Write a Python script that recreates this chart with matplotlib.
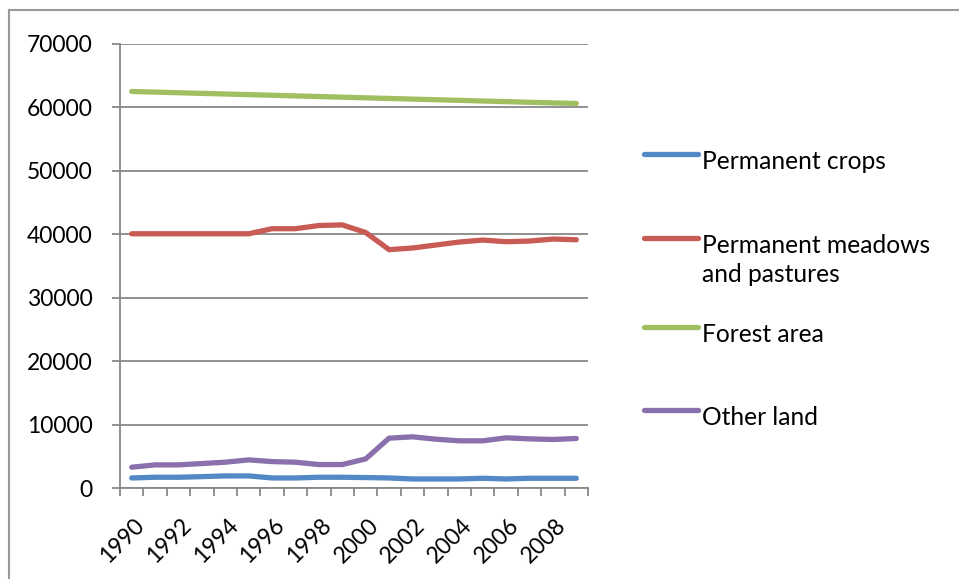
import matplotlib.pyplot as plt
import matplotlib.transforms as mtransforms
import numpy as np
from matplotlib.lines import Line2D

plt.rcParams['font.family'] = ['Lato', 'DejaVu Sans']

years = list(range(1990, 2010))
permanent_crops = [1630, 1740, 1740, 1840, 1950, 1950, 1630, 1630, 1740, 1740,
                   1690, 1630, 1470, 1470, 1470, 1580, 1470, 1580, 1580, 1580]
meadows = [40100, 40100, 40100, 40100, 40100, 40100, 40900, 40900, 41400, 41500,
           40300, 37600, 37860, 38330, 38800, 39110, 38850, 38950, 39270, 39160]
forest = [62520, 62420, 62320, 62220, 62120, 62020, 61920, 61820, 61720, 61620,
          61520, 61420, 61320, 61220, 61120, 61020, 60920, 60820, 60720, 60630]
other_land = [3320, 3690, 3690, 3900, 4110, 4480, 4210, 4110, 3740, 3740,
              4630, 7900, 8110, 7740, 7480, 7480, 7950, 7790, 7690, 7850]

series = [
    ("Permanent crops", permanent_crops, '#5289C6'),
    ("Permanent meadows\nand pastures", meadows, '#C95B55'),
    ("Forest area", forest, '#A0BF60'),
    ("Other land", other_land, '#8A71AD'),
]

fig = plt.figure(figsize=(9.59, 5.79), dpi=100)
ax = fig.add_axes([120/959, 1 - 488.3/579, 468/959, 444.3/579])

x = np.arange(len(years))
for name, vals, col in series:
    ax.plot(x, vals, color=col, lw=3.8, solid_capstyle='round', solid_joinstyle='round')

grid_col = '#888888'
ax.set_ylim(0, 70000)
ax.set_xlim(-0.5, len(years) - 0.5)
ax.set_yticks(range(0, 70001, 10000))
ax.yaxis.grid(True, color=grid_col, lw=1.3)
ax.set_axisbelow(True)
for s in ['top', 'right']:
    ax.spines[s].set_visible(False)
for s in ['left', 'bottom']:
    ax.spines[s].set_color(grid_col)
    ax.spines[s].set_linewidth(1.3)

ax.tick_params(axis='y', length=6, width=1.3, color=grid_col, pad=13.5, labelsize=16.5)
ax.set_xticks(x[::2])
ax.set_xticklabels([str(y) for y in years[::2]], rotation=45, ha='right',
                   rotation_mode='anchor', fontsize=16.5)
ax.set_xticks(np.arange(-0.5, len(years)), minor=True)
ax.tick_params(axis='x', which='major', length=0, pad=19)
ax.tick_params(axis='x', which='minor', length=6, width=1.3, color=grid_col)
shift = mtransforms.ScaledTranslation(2/100, 0, fig.dpi_scale_trans)
for lab in ax.get_xticklabels():
    lab.set_transform(lab.get_transform() + shift)

# legend drawn by hand to keep Excel spacing
leg_y = [154, 238, 327, 410]
for (name, vals, col), yy in zip(series, leg_y):
    fy = 1 - yy/579
    fig.add_artist(Line2D([644/959, 698/959], [fy, fy], color=col, lw=3.8,
                          solid_capstyle='round', transform=fig.transFigure))
    for i, part in enumerate(name.split('\n')):
        fig.text(702/959, 1 - (yy + 15 + 29*i)/579, part, fontsize=17.7,
                 va='baseline', ha='left')

# outer chart border (left and top only visible)
fig.add_artist(Line2D([9/959, 9/959], [0, 1 - 10/579], color='#999999', lw=1.5,
                      transform=fig.transFigure))
fig.add_artist(Line2D([9/959, 1], [1 - 10/579, 1 - 10/579], color='#999999', lw=1.5,
                      transform=fig.transFigure))

fig.savefig('out.png', dpi=100)
